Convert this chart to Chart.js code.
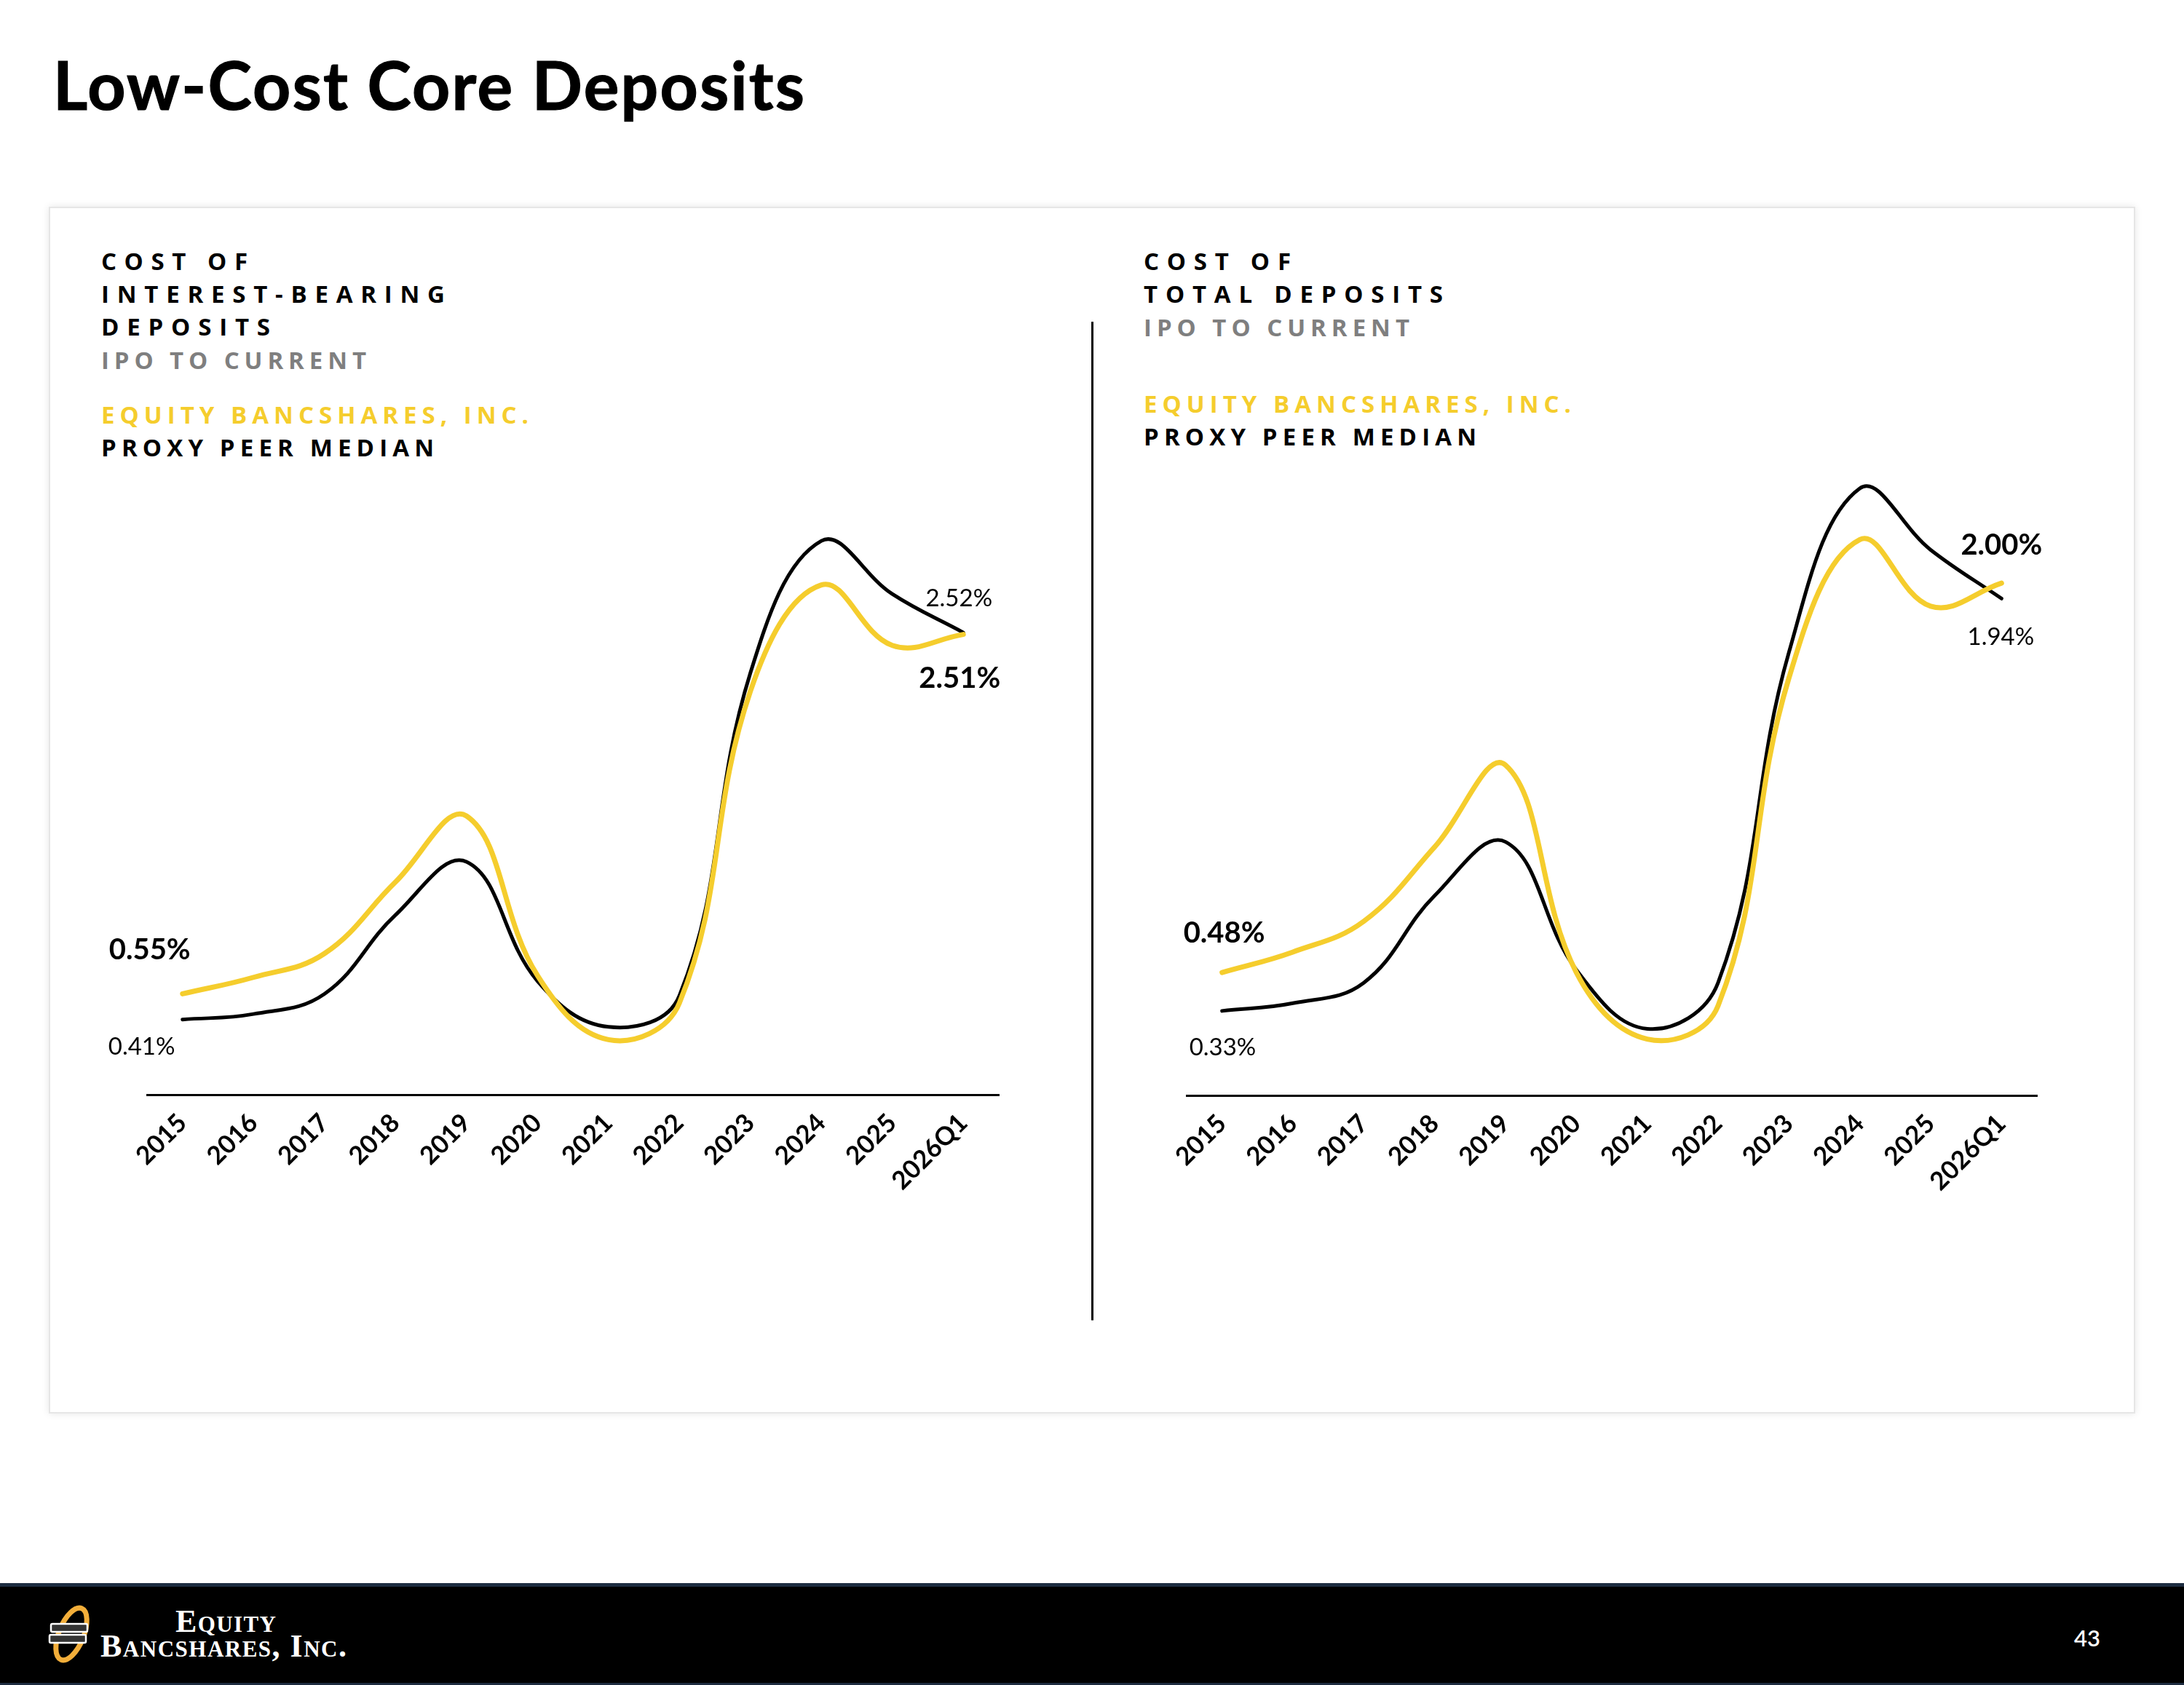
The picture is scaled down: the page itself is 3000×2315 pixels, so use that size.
<!DOCTYPE html>
<html>
<head>
<meta charset="utf-8">
<script src="https://cdn.jsdelivr.net/npm/chart.js@4.4.1/dist/chart.umd.min.js"></script>
<style>
html,body{margin:0;padding:0;background:#fff;}
body{width:3000px;height:2315px;position:relative;overflow:hidden;font-family:Lato,"Open Sans",sans-serif;}
.t{position:absolute;white-space:nowrap;margin:0;padding:0;}
#title{font:700 91px Lato;color:#000;-webkit-text-stroke:1.2px #000;}
.hd{font:700 33px "Open Sans";color:#000;}
.gray{color:#7f7f7f;}
.yel{color:#F5CD2D;}
#card{position:absolute;left:67px;top:284px;width:2862px;height:1654px;border:2px solid #e6e6e6;box-shadow:0 0 10px rgba(0,0,0,0.10);background:#fff;}
#divider{position:absolute;left:1499px;top:442px;width:3px;height:1372px;background:#000;}
canvas{position:absolute;}
#footer{position:absolute;left:0;top:2175px;width:3000px;height:140px;background:#000;border-top:5px solid #1d2c40;box-sizing:border-box;border-bottom:3px solid #1d2c40;}
.logo{font-family:"Liberation Serif","DejaVu Serif",serif;font-weight:700;font-variant:small-caps;font-size:44px;color:#fff;}
#pnum{font:600 31px Lato;color:#fff;}
</style>
</head>
<body>
<div id="title" class="t" data-x="73" data-b="151" data-w="1032">Low-Cost Core Deposits</div>
<div id="card"></div>
<div id="divider"></div>

<div class="t hd" data-x="139" data-b="371" data-w="201">COST OF</div>
<div class="t hd" data-x="139" data-b="416" data-w="472">INTEREST-BEARING</div>
<div class="t hd" data-x="139" data-b="461" data-w="232">DEPOSITS</div>
<div class="t hd gray" data-x="139" data-b="507" data-w="364">IPO TO CURRENT</div>
<div class="t hd yel" data-x="139" data-b="582" data-w="587">EQUITY BANCSHARES, INC.</div>
<div class="t hd" data-x="139" data-b="627" data-w="457">PROXY PEER MEDIAN</div>

<div class="t hd" data-x="1571" data-b="371" data-w="202">COST OF</div>
<div class="t hd" data-x="1571" data-b="416" data-w="411">TOTAL DEPOSITS</div>
<div class="t hd gray" data-x="1571" data-b="462" data-w="365">IPO TO CURRENT</div>
<div class="t hd yel" data-x="1571" data-b="567" data-w="587">EQUITY BANCSHARES, INC.</div>
<div class="t hd" data-x="1571" data-b="612" data-w="457">PROXY PEER MEDIAN</div>

<canvas id="c1" width="1400" height="1200" style="left:60px;top:500px;width:1400px;height:1200px;"></canvas>
<canvas id="c2" width="1400" height="1200" style="left:1520px;top:500px;width:1400px;height:1200px;"></canvas>

<div id="footer"></div>
<svg style="position:absolute;left:50px;top:2195px;" width="100" height="110" viewBox="0 0 100 110">
  <ellipse cx="48" cy="50" rx="17" ry="38" transform="rotate(22 48 50)" fill="none" stroke="#F2AE3A" stroke-width="7"/>
  <rect x="20" y="36" width="50" height="11" rx="2" fill="#333" stroke="#fff" stroke-width="2.5"/>
  <rect x="18" y="51" width="50" height="11" rx="2" fill="#333" stroke="#fff" stroke-width="2.5"/>
</svg>
<div class="t logo" data-x="241" data-b="2242" data-w="138">Equity</div>
<div class="t logo" data-x="138" data-b="2276" data-w="338">Bancshares, Inc.</div>
<div id="pnum" class="t" data-x="2849" data-b="2262">43</div>

<script>
// ---- data ----
const categories = ['2015','2016','2017','2018','2019','2020','2021','2022','2023','2024','2025','2026Q1'];
const seriesNames = ['EQUITY BANCSHARES, INC.','PROXY PEER MEDIAN'];
// Cost of interest-bearing deposits (%)
const ibEquity = [0.55,0.64,0.77,1.16,1.52,0.65,0.30,0.50,2.20,2.78,2.45,2.51];
const ibPeer   = [0.41,0.44,0.55,0.98,1.27,0.62,0.37,0.54,2.30,3.02,2.73,2.52];
// Cost of total deposits (%)
const totEquity = [0.48,0.56,0.68,0.97,1.29,0.48,0.22,0.35,1.63,2.17,1.91,2.00];
const totPeer   = [0.33,0.36,0.44,0.78,0.99,0.49,0.26,0.44,1.73,2.37,2.13,1.94];

const YELLOW = '#F5CD2D';

const valueLabelPlugin = {
  id: 'valueLabels',
  afterDatasetsDraw(chart, args, opts) {
    const ctx = chart.ctx;
    (opts.items || []).forEach(it => {
      const pt = chart.getDatasetMeta(it.ds).data[it.idx];
      const v = chart.data.datasets[it.ds].data[it.idx];
      ctx.save();
      ctx.font = (it.bold ? '700 40px' : '400 33px') + ' Lato';
      ctx.fillStyle = '#000';
      ctx.textAlign = it.align;
      ctx.textBaseline = 'alphabetic';
      ctx.fillText(v.toFixed(2) + '%', pt.x + it.dx, pt.y + it.dy);
      ctx.restore();
    });
  }
};

function makeChart(id, eq, peer, ymax, pad, items) {
  return new Chart(document.getElementById(id), {
    type: 'line',
    data: {
      labels: categories,
      datasets: [
        {label: seriesNames[0], data: eq, borderColor: YELLOW, borderWidth: 7, tension: 0.4,
         pointRadius: 0, borderCapStyle: 'round', borderJoinStyle: 'round', clip: false, fill: false},
        {label: seriesNames[1], data: peer, borderColor: '#000', borderWidth: 5, tension: 0.4,
         pointRadius: 0, borderCapStyle: 'round', borderJoinStyle: 'round', clip: false, fill: false}
      ]
    },
    options: {
      responsive: false, animation: false, devicePixelRatio: 1,
      layout: {padding: pad},
      plugins: {legend: {display: false}, tooltip: {enabled: false}, valueLabels: {items: items}},
      scales: {
        x: {
          offset: true,
          grid: {display: false, drawTicks: false},
          border: {display: true, color: '#000', width: 3},
          ticks: {autoSkip: false, maxRotation: 45, minRotation: 45, color: '#000',
                  font: {family: 'Lato', weight: 'bold', size: 35}, padding: 18},
          afterFit(s) { s.height = 150; }
        },
        y: {display: false, min: 0, max: ymax}
      }
    },
    plugins: [valueLabelPlugin]
  });
}

function layoutText() {
  document.querySelectorAll('.t').forEach(el => {
    el.style.letterSpacing = '0px';
    el.style.left = el.dataset.x + 'px';
    el.style.top = '0px';
    const w = +el.dataset.w;
    if (w) {
      const n = [...el.textContent].length;
      const nat = el.getBoundingClientRect().width;
      el.style.letterSpacing = ((w - nat) / (n - 1)) + 'px';
    }
    const probe = document.createElement('span');
    probe.style.cssText = 'display:inline-block;width:0;height:0;vertical-align:baseline;';
    el.appendChild(probe);
    const off = probe.offsetTop;
    el.removeChild(probe);
    el.style.top = (el.dataset.b - off) + 'px';
  });
}

function init() {
  layoutText();
  makeChart('c1', ibEquity, ibPeer, 3.6,
    {left: 142, right: 88, top: 97, bottom: 46},
    [{ds:0, idx:0, bold:true, align:'left', dx:-101, dy:-47},
     {ds:1, idx:0, bold:false, align:'left', dx:-102, dy:48},
     {ds:1, idx:11, bold:false, align:'center', dx:-6, dy:-36},
     {ds:0, idx:11, bold:true, align:'center', dx:-5, dy:73}]);
  makeChart('c2', totEquity, totPeer, 2.6,
    {left: 110, right: 122, top: 90, bottom: 45},
    [{ds:0, idx:0, bold:true, align:'left', dx:-53, dy:-41},
     {ds:1, idx:0, bold:false, align:'left', dx:-45, dy:61},
     {ds:0, idx:11, bold:true, align:'center', dx:0, dy:-39},
     {ds:1, idx:11, bold:false, align:'center', dx:-1, dy:64}]);
}

if (document.fonts && document.fonts.ready) {
  document.fonts.ready.then(init);
} else {
  window.addEventListener('load', init);
}
</script>
</body>
</html>
